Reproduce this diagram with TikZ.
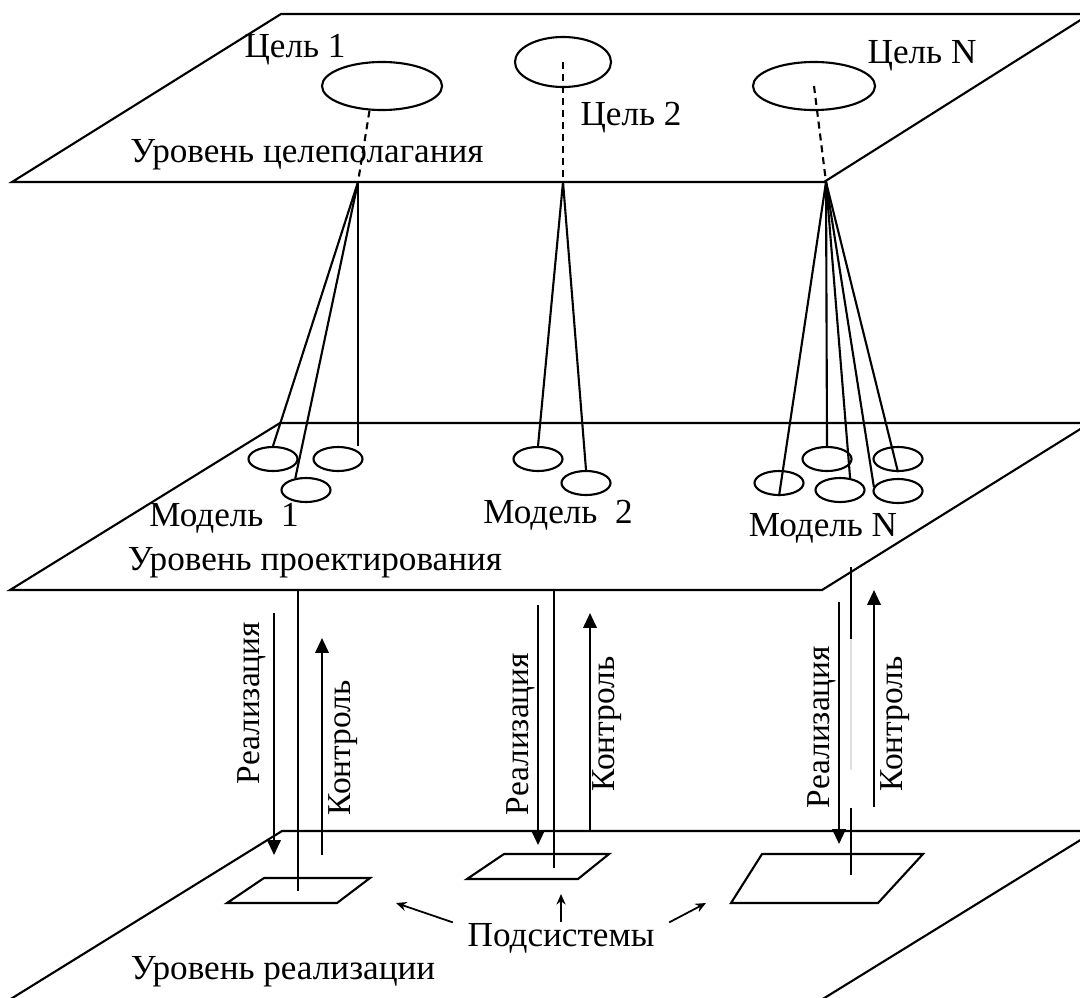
\documentclass[tikz,border=0pt]{standalone}
\usepackage{fontspec}
\setmainfont{Liberation Serif}
\usetikzlibrary{shapes.geometric,arrows.meta}
\tikzset{
  plane/.style={line width=0.6pt},
  goal/.style={draw, ellipse, line width=0.6pt, inner sep=0pt},
  model/.style={draw, ellipse, line width=0.6pt, inner sep=0pt, minimum width=0.49cm, minimum height=0.24cm},
  link/.style={line width=0.6pt},
  flow/.style={line width=0.6pt, -{Triangle[length=4.2pt,width=3.8pt]}},
  pointer/.style={line width=0.5pt, -{Stealth[length=3pt,width=2.6pt]}},
  lbl/.style={font=\fontsize{10}{12}\selectfont, inner sep=0pt},
  vlbl/.style={font=\fontsize{9.5}{11}\selectfont, inner sep=0pt, rotate=90},
}

\begin{document}
\begin{tikzpicture}[x=0.01cm,y=-0.01cm]
            \path[use as bounding box, clip] (0,0) rectangle (1080,997);

            % Levels
            \draw[plane] (12,182) -- (281,14) -- (1090,14) -- (824,182) -- cycle;
            \draw[plane] (10,590) -- (280,423) -- (1090,423) -- (822,590) -- cycle;
            \draw[plane] (1,1005) -- (282,831) -- (1095,831) -- (813,1005);

            \node[lbl] (lev1) at (307,155) {Уровень целеполагания};
            \node[lbl] (lev2) at (315,563) {Уровень проектирования};
            \node[lbl] (lev3) at (283,972) {Уровень реализации};

            % Goals
            \node[goal, minimum width=1.2cm, minimum height=0.48cm] (g1) at (382,86) {};
            \node[goal, minimum width=0.96cm, minimum height=0.5cm] (g2) at (563,62) {};
            \node[goal, minimum width=1.22cm, minimum height=0.48cm] (gN) at (814,86) {};
            \node[lbl] (tg1) at (295,50) {Цель 1};
            \node[lbl] (tg2) at (631,118) {Цель 2};
            \node[lbl] (tgN) at (922,56) {Цель N};

            \coordinate (c1) at (358,182);
            \coordinate (c2) at (563,182);
            \coordinate (cN) at (826,182);

            \draw[link, dash pattern=on 2pt off 1.4pt] (g1.243) -- (c1);
            \draw[link, dash pattern=on 2pt off 1.4pt] (g2.center) -- (c2);
            \draw[link, dash pattern=on 2pt off 1.4pt] (gN.center) -- (cN);

            % Models
            \node[model] (m1a) at (273,459) {};
            \node[model] (m1b) at (306,490) {};
            \node[model] (m1c) at (338,459) {};
            \node[model] (m2a) at (538,459) {};
            \node[model] (m2b) at (586,483) {};
            \node[model] (mNa) at (779,483) {};
            \node[model] (mNb) at (827,459) {};
            \node[model] (mNc) at (840,490) {};
            \node[model] (mNd) at (898,459) {};
            \node[model] (mNe) at (898,491) {};
            \node[lbl] (tm1) at (224,518) {Модель~~1};
            \node[lbl] (tm2) at (558,515) {Модель~~2};
            \node[lbl] (tmN) at (823,528) {Модель N};

            \draw[link] (c1) -- (m1a.north);
            \draw[link] (c1) -- (m1b.132);
            \draw[link] (c1) -- (c1 |- m1c.north);
            \draw[link] (c2) -- (m2a.north);
            \draw[link] (c2) -- (m2b.north);
            \draw[link] (cN) -- (mNa.south);
            \draw[link] (cN) -- (mNb.north);
            \draw[link] (cN) -- (mNc.50);
            \draw[link] (cN) -- (mNd.south);
            \draw[link] (cN) -- (mNe.170);

            % Subsystems
            \draw[plane] (227,903) -- (264,878) -- (370,878) -- (337,903) -- cycle;
            \draw[plane] (467,879) -- (504,854) -- (609,854) -- (578,879) -- cycle;
            \draw[plane] (731,903) -- (762,854) -- (923,854) -- (878,903) -- cycle;
            \coordinate (s1) at (298,891);
            \coordinate (s2) at (554,868);
            \coordinate (s3) at (851,875);

            \coordinate (b1) at (298,590);
            \coordinate (b2) at (554,590);
            \coordinate (b3) at (851,567);
            \draw[link] (b1) -- (s1);
            \draw[link] (b2) -- (s2);
            \coordinate (b3a) at (851,639);
            \coordinate (b3b) at (851,770);
            \coordinate (b3c) at (851,808);
            \draw[link] (b3) -- (b3a);
            \draw[link, gray!25] (b3a) -- (b3b);
            \draw[link] (b3c) -- (s3);

            % Realisation / control
            \coordinate (r1s) at (274,613); \coordinate (r1e) at (274,855);
            \coordinate (k1s) at (322,855); \coordinate (k1e) at (322,638);
            \coordinate (r2s) at (538,605); \coordinate (r2e) at (538,845);
            \coordinate (k2s) at (590,831); \coordinate (k2e) at (590,613);
            \coordinate (r3s) at (839,602); \coordinate (r3e) at (839,844);
            \coordinate (k3s) at (874,807); \coordinate (k3e) at (874,590);
            \draw[flow] (r1s) -- (r1e);
            \draw[flow] (k1s) -- (k1e);
            \draw[flow] (r2s) -- (r2e);
            \draw[flow] (k2s) -- (k2e);
            \draw[flow] (r3s) -- (r3e);
            \draw[flow] (k3s) -- (k3e);

            \node[vlbl] (tr1) at (252,703) {Реализация};
            \node[vlbl] (tk1) at (343,748) {Контроль};
            \node[vlbl] (tr2) at (521,734) {Реализация};
            \node[vlbl] (tk2) at (607,724) {Контроль};
            \node[vlbl] (tr3) at (822,727) {Реализация};
            \node[vlbl] (tk3) at (895,724) {Контроль};

            % Subsystem pointers
            \node[lbl, inner xsep=4pt] (sub) at (561,938) {Подсистемы};
            \coordinate (t1) at (396,903);
            \coordinate (t2) at (561,894);
            \coordinate (t3) at (706,903);
            \draw[pointer] (sub.north west) -- (t1);
            \draw[pointer] (sub.north) -- (t2);
            \draw[pointer] (sub.north east) -- (t3);

\end{tikzpicture}
\end{document}
